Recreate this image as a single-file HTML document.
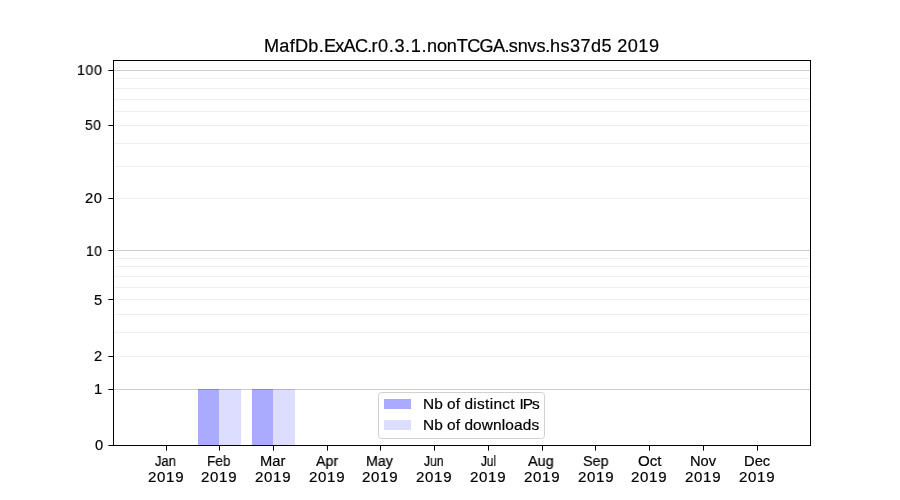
<!DOCTYPE html>
<html lang="en"><head><meta charset="utf-8"><title>MafDb.ExAC.r0.3.1.nonTCGA.snvs.hs37d5 2019</title>
<style>
html,body{margin:0;padding:0;background:#fff;}
body{width:900px;height:500px;position:relative;overflow:hidden;font-family:"Liberation Sans",sans-serif;color:#000;}
.a{position:absolute;}
.g{position:absolute;left:114px;width:696px;height:1px;}
.t{position:absolute;white-space:nowrap;line-height:1;will-change:transform;transform-origin:0 0;-webkit-text-stroke:0.2px #000;}
.yt{position:absolute;left:108px;width:5px;height:1px;background:linear-gradient(to right,#555 0,#555 1px,#000 1px,#000 100%);}
.xt{position:absolute;top:446px;width:1px;height:5px;background:linear-gradient(to bottom,#000 0,#000 4px,#666 4px,#666 100%);}
</style></head><body>
<div id="bars">
<div class="a" style="left:198px;top:389px;width:21px;height:56px;background:rgba(0,0,255,0.333)"></div>
<div class="a" style="left:219px;top:389px;width:22px;height:56px;background:rgba(0,0,255,0.133)"></div>
<div class="a" style="left:252px;top:389px;width:21px;height:56px;background:rgba(0,0,255,0.333)"></div>
<div class="a" style="left:273px;top:389px;width:22px;height:56px;background:rgba(0,0,255,0.133)"></div>
</div>
<div id="grid">
<div class="g" style="top:70px;background:rgba(0,0,0,0.2)"></div>
<div class="g" style="top:78px;background:rgba(0,0,0,0.062)"></div>
<div class="g" style="top:88px;background:rgba(0,0,0,0.062)"></div>
<div class="g" style="top:99px;background:rgba(0,0,0,0.062)"></div>
<div class="g" style="top:111px;background:rgba(0,0,0,0.062)"></div>
<div class="g" style="top:125px;background:rgba(0,0,0,0.062)"></div>
<div class="g" style="top:143px;background:rgba(0,0,0,0.062)"></div>
<div class="g" style="top:166px;background:rgba(0,0,0,0.062)"></div>
<div class="g" style="top:198px;background:rgba(0,0,0,0.062)"></div>
<div class="g" style="top:250px;background:rgba(0,0,0,0.2)"></div>
<div class="g" style="top:258px;background:rgba(0,0,0,0.062)"></div>
<div class="g" style="top:266px;background:rgba(0,0,0,0.062)"></div>
<div class="g" style="top:276px;background:rgba(0,0,0,0.062)"></div>
<div class="g" style="top:287px;background:rgba(0,0,0,0.062)"></div>
<div class="g" style="top:299px;background:rgba(0,0,0,0.062)"></div>
<div class="g" style="top:314px;background:rgba(0,0,0,0.062)"></div>
<div class="g" style="top:332px;background:rgba(0,0,0,0.062)"></div>
<div class="g" style="top:356px;background:rgba(0,0,0,0.062)"></div>
<div class="g" style="top:389px;background:rgba(0,0,0,0.2)"></div>
</div>
<div class="a" id="frame" style="left:113px;top:60px;width:698px;height:386px;border:1px solid #000;box-sizing:border-box"></div>
<div id="yticks">
<div class="yt" style="top:70px"></div>
<div class="yt" style="top:125px"></div>
<div class="yt" style="top:198px"></div>
<div class="yt" style="top:250px"></div>
<div class="yt" style="top:299px"></div>
<div class="yt" style="top:356px"></div>
<div class="yt" style="top:389px"></div>
<div class="yt" style="top:445px"></div>
</div><div id="xticks">
<div class="xt" style="left:166px"></div>
<div class="xt" style="left:219px"></div>
<div class="xt" style="left:273px"></div>
<div class="xt" style="left:327px"></div>
<div class="xt" style="left:380px"></div>
<div class="xt" style="left:434px"></div>
<div class="xt" style="left:488px"></div>
<div class="xt" style="left:542px"></div>
<div class="xt" style="left:595px"></div>
<div class="xt" style="left:649px"></div>
<div class="xt" style="left:703px"></div>
<div class="xt" style="left:757px"></div>
</div>
<div class="a" id="legend" style="left:378px;top:392px;width:167px;height:47px;box-sizing:border-box;border:1px solid #d1d1d1;border-radius:3.5px;background:rgba(255,255,255,0.8)"></div>
<div class="a" style="left:384px;top:399px;width:27px;height:10px;background:rgba(0,0,255,0.333)"></div>
<div class="a" style="left:384px;top:420px;width:27px;height:10px;background:rgba(0,0,255,0.133)"></div>
<div class="t" id="title" style="left:263.51px;top:38.40px;font-size:17.6px;font-kerning:none;transform:scaleX(1.0300)"><span style="letter-spacing:0.254px">MafDb.</span><span style="letter-spacing:-0.756px">ExAC.</span><span style="letter-spacing:0.584px">r0.3.1.</span><span style="letter-spacing:-0.178px">non</span><span style="letter-spacing:-0.639px">TCGA.</span><span style="letter-spacing:-0.206px">snvs.</span><span style="letter-spacing:0.379px">hs37d5 </span><span style="letter-spacing:0.434px">2019</span></div>
<div class="t" id="y100" style="left:77.05px;top:63.00px;font-size:14.7px;letter-spacing:0.67px;transform:scaleX(0.9634)">100</div>
<div class="t" id="y50" style="left:84.60px;top:118.00px;font-size:14.7px;letter-spacing:0.67px;transform:scaleX(0.9408)">50</div>
<div class="t" id="y20" style="left:84.90px;top:191.00px;font-size:14.7px;letter-spacing:0.67px;transform:scaleX(1.0000)">20</div>
<div class="t" id="y10" style="left:85.98px;top:244.00px;font-size:14.7px;letter-spacing:0.67px;transform:scaleX(0.9418)">10</div>
<div class="t" id="y5" style="left:93.60px;top:293.00px;font-size:14.7px;letter-spacing:0.67px;transform:scaleX(1.0000)">5</div>
<div class="t" id="y2" style="left:93.60px;top:349.00px;font-size:14.7px;letter-spacing:0.67px;transform:scaleX(1.0000)">2</div>
<div class="t" id="y1" style="left:94.05px;top:382.00px;font-size:14.7px;letter-spacing:0.67px;transform:scaleX(1.0000)">1</div>
<div class="t" id="y0" style="left:95.14px;top:438.00px;font-size:14.7px;letter-spacing:0.67px;transform:scaleX(1.0000)">0</div>
<div class="t" id="mJan" style="left:155.00px;top:454.00px;font-size:14.7px;transform:scaleX(0.8841)">Jan</div>
<div class="t" id="yrJan" style="left:147.65px;top:470.00px;font-size:14.7px;letter-spacing:0.67px;transform:scaleX(1.0253)">2019</div>
<div class="t" id="mFeb" style="left:206.90px;top:454.00px;font-size:14.7px;transform:scaleX(0.9250)">Feb</div>
<div class="t" id="yrFeb" style="left:201.39px;top:470.00px;font-size:14.7px;letter-spacing:0.67px;transform:scaleX(1.0253)">2019</div>
<div class="t" id="mMar" style="left:259.95px;top:454.00px;font-size:14.7px;transform:scaleX(1.0000)">Mar</div>
<div class="t" id="yrMar" style="left:255.17px;top:470.00px;font-size:14.7px;letter-spacing:0.67px;transform:scaleX(1.0253)">2019</div>
<div class="t" id="mApr" style="left:315.53px;top:454.00px;font-size:14.7px;transform:scaleX(0.9696)">Apr</div>
<div class="t" id="yrApr" style="left:309.31px;top:470.00px;font-size:14.7px;letter-spacing:0.67px;transform:scaleX(1.0253)">2019</div>
<div class="t" id="mMay" style="left:366.41px;top:454.00px;font-size:14.7px;transform:scaleX(0.9667)">May</div>
<div class="t" id="yrMay" style="left:362.31px;top:470.00px;font-size:14.7px;letter-spacing:0.67px;transform:scaleX(1.0253)">2019</div>
<div class="t" id="mJun" style="left:424.42px;top:454.00px;font-size:14.7px;transform:scaleX(0.8291)">Jun</div>
<div class="t" id="yrJun" style="left:415.95px;top:470.00px;font-size:14.7px;letter-spacing:0.67px;transform:scaleX(1.0253)">2019</div>
<div class="t" id="mJul" style="left:480.70px;top:454.00px;font-size:14.7px;transform:scaleX(0.8025)">Jul</div>
<div class="t" id="yrJul" style="left:469.89px;top:470.00px;font-size:14.7px;letter-spacing:0.67px;transform:scaleX(1.0253)">2019</div>
<div class="t" id="mAug" style="left:528.06px;top:454.00px;font-size:14.7px;transform:scaleX(0.9822)">Aug</div>
<div class="t" id="yrAug" style="left:523.73px;top:470.00px;font-size:14.7px;letter-spacing:0.67px;transform:scaleX(1.0253)">2019</div>
<div class="t" id="mSep" style="left:582.80px;top:454.00px;font-size:14.7px;transform:scaleX(0.9760)">Sep</div>
<div class="t" id="yrSep" style="left:577.87px;top:470.00px;font-size:14.7px;letter-spacing:0.67px;transform:scaleX(1.0253)">2019</div>
<div class="t" id="mOct" style="left:637.93px;top:454.00px;font-size:14.7px;transform:scaleX(1.0280)">Oct</div>
<div class="t" id="yrOct" style="left:631.27px;top:470.00px;font-size:14.7px;letter-spacing:0.67px;transform:scaleX(1.0253)">2019</div>
<div class="t" id="mNov" style="left:689.54px;top:454.00px;font-size:14.7px;transform:scaleX(1.0000)">Nov</div>
<div class="t" id="yrNov" style="left:685.38px;top:470.00px;font-size:14.7px;letter-spacing:0.67px;transform:scaleX(1.0253)">2019</div>
<div class="t" id="mDec" style="left:743.80px;top:454.00px;font-size:14.7px;transform:scaleX(1.0026)">Dec</div>
<div class="t" id="yrDec" style="left:738.63px;top:470.00px;font-size:14.7px;letter-spacing:0.67px;transform:scaleX(1.0253)">2019</div>
<div class="t" id="leg1" style="left:422.63px;top:397.00px;font-size:14.7px;font-kerning:none;transform:scaleX(1.0500)"><span style="letter-spacing:0.038px">Nb of </span><span style="letter-spacing:0.307px">distinct </span><span style="letter-spacing:-1.080px">IPs</span></div>
<div class="t" id="leg2" style="left:422.63px;top:418.00px;font-size:14.7px;font-kerning:none;transform:scaleX(1.0500)"><span style="letter-spacing:0.038px">Nb of </span><span style="letter-spacing:0.120px">downloads</span></div>
</body></html>
